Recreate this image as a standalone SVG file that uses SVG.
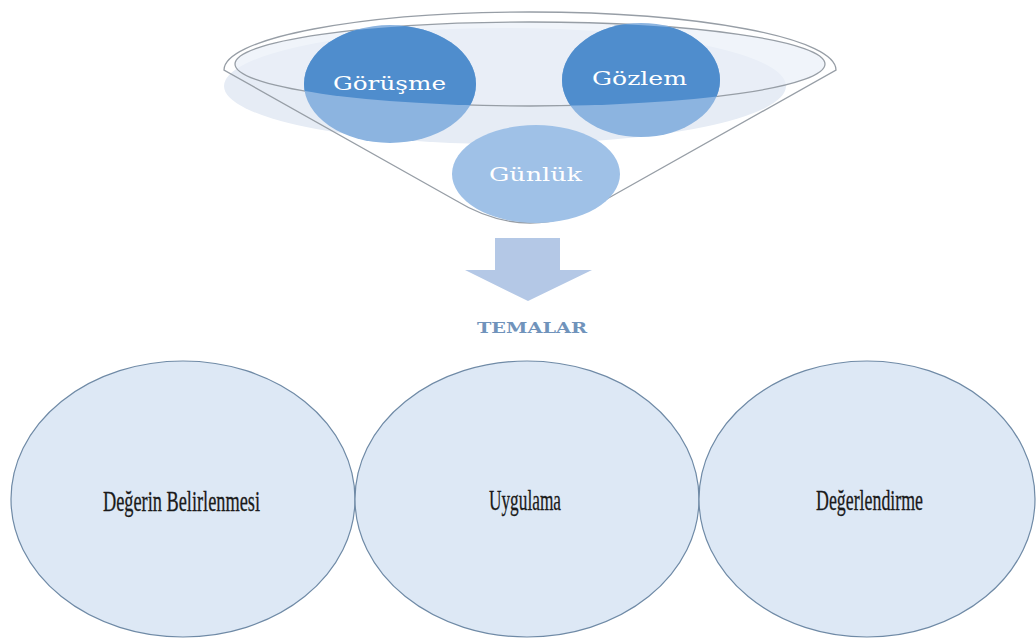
<svg xmlns="http://www.w3.org/2000/svg" width="1036" height="643" viewBox="0 0 1036 643">
<defs>
<style>
.big{fill:#dde8f5;stroke:#6f8aa6;stroke-width:1.2}
.lbl{font-family:"Liberation Serif",serif;font-size:30px;fill:#1a1a1a;stroke:#1a1a1a;stroke-width:0.3}
.top{font-family:"DejaVu Serif","Liberation Serif",serif;font-size:19px;fill:#ffffff}
.line{fill:none;stroke:#979ea6;stroke-width:1.3}
</style>
<clipPath id="innerClip"><ellipse cx="530" cy="64" rx="295" ry="42"/></clipPath>
</defs>
<rect width="1036" height="643" fill="#ffffff"/>
<g id="funnel">
<ellipse cx="505" cy="86" rx="281" ry="58" fill="#e6ecf5"/>
<ellipse cx="530" cy="64" rx="295" ry="42" fill="#e9eff8" opacity="0.7"/>
<path d="M224,70 A306,58 0 0 1 836,70 L605,200 Q530,246 455,200 Z" class="line"/>
<ellipse cx="530" cy="64" rx="295" ry="42" class="line"/>
</g>
<g id="node-gorusme">
<ellipse cx="390" cy="84" rx="86" ry="59" fill="#8cb4e0"/>
<ellipse cx="390" cy="84" rx="86" ry="59" fill="#4f8dcd" clip-path="url(#innerClip)"/>
<text class="top" x="333" y="90" textLength="113" lengthAdjust="spacingAndGlyphs">Görüşme</text>
</g>
<g id="node-gozlem">
<ellipse cx="641" cy="80" rx="79" ry="57" fill="#8cb4e0"/>
<ellipse cx="641" cy="80" rx="79" ry="57" fill="#4f8dcd" clip-path="url(#innerClip)"/>
<text class="top" x="592" y="85" textLength="95" lengthAdjust="spacingAndGlyphs">Gözlem</text>
</g>
<g id="node-gunluk">
<ellipse cx="536" cy="174" rx="84" ry="49" fill="#9fc1e7"/>
<text class="top" x="489" y="181" textLength="93" lengthAdjust="spacingAndGlyphs" fill="#f4f8fc">Günlük</text>
</g>
<g id="connectors">
<path d="M495,238 H560 V270 H592 L528,301 L465,270 H495 Z" fill="#b4c8e6"/>
</g>
<g id="label-temalar">
<text x="477" y="333" font-family="DejaVu Serif, Liberation Serif, serif" font-size="14" font-weight="bold" fill="#7093bb" textLength="110" lengthAdjust="spacingAndGlyphs">TEMALAR</text>
</g>
<g id="node-degerin">
<ellipse class="big" cx="183" cy="499" rx="172" ry="138"/>
<text class="lbl" x="103" y="511" textLength="157" lengthAdjust="spacingAndGlyphs">Değerin  Belirlenmesi</text>
</g>
<g id="node-uygulama">
<ellipse class="big" cx="527" cy="499" rx="172" ry="138"/>
<text class="lbl" x="489" y="510" textLength="72" lengthAdjust="spacingAndGlyphs">Uygulama</text>
</g>
<g id="node-degerlendirme">
<ellipse class="big" cx="867" cy="499" rx="168" ry="138"/>
<text class="lbl" x="816" y="510" textLength="107" lengthAdjust="spacingAndGlyphs">Değerlendirme</text>
</g>
</svg>
